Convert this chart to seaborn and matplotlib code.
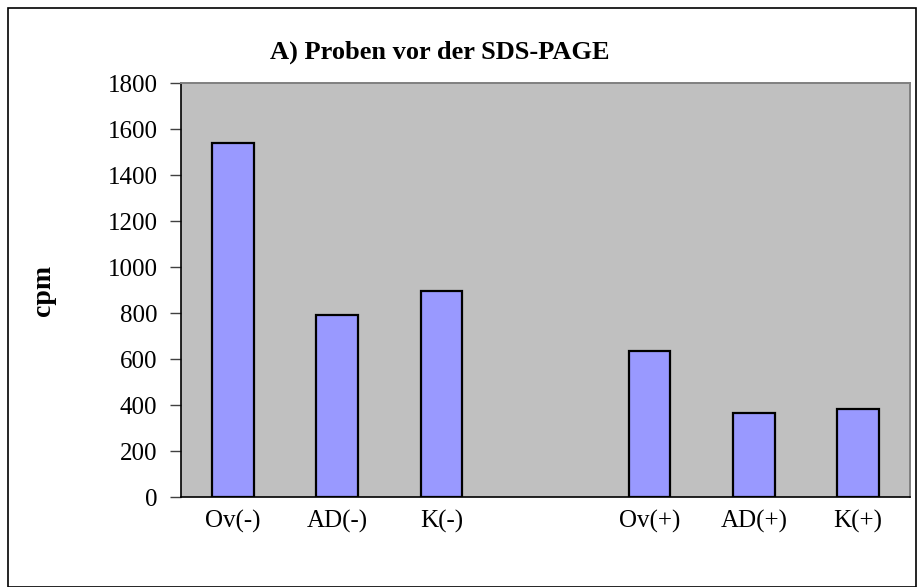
import pandas as pd
import matplotlib.pyplot as plt
import seaborn as sns
from matplotlib.patches import Rectangle

# ----------------------------
# Data
# ----------------------------
samples = ["Ov(-)", "AD(-)", "K(-)", "Ov(+)", "AD(+)", "K(+)"]
cpm_values = [1540, 792, 897, 636, 366, 383]
# blank slot between the (-) and (+) groups
category_order = ["Ov(-)", "AD(-)", "K(-)", "", "Ov(+)", "AD(+)", "K(+)"]
y_ticks = [0, 200, 400, 600, 800, 1000, 1200, 1400, 1600, 1800]

df = pd.DataFrame({"Probe": samples, "cpm": cpm_values})

# ----------------------------
# Style
# ----------------------------
sns.set_style("white")
plt.rcParams["font.family"] = ["Liberation Serif", "DejaVu Serif"]
plt.rcParams["text.color"] = "black"
plt.rcParams["axes.labelcolor"] = "black"
plt.rcParams["xtick.color"] = "black"
plt.rcParams["ytick.color"] = "black"

fig = plt.figure(figsize=(9.18, 5.87), dpi=100)
W, H = 918, 587
ax = fig.add_axes([181 / W, 1 - 497 / H, (910 - 181) / W, (497 - 83) / H])

sns.barplot(data=df, x="Probe", y="cpm", order=category_order,
            color="#9999FF", saturation=1, width=0.4,
            edgecolor="black", linewidth=1.6, ax=ax)

ax.set_facecolor("#C0C0C0")
ax.set_ylim(0, 1800)
ax.set_xlim(-0.5, 6.5)
ax.set_yticks(y_ticks)
ax.set_yticklabels([str(v) for v in y_ticks], fontsize=18)
ax.tick_params(axis="y", direction="out", length=8, width=1, color="#404040", pad=9, left=True)
ax.tick_params(axis="x", length=0, pad=9, labelsize=18)
ax.set_xlabel("")
ax.set_ylabel("cpm", fontsize=20, fontweight="bold")
ax.yaxis.set_label_coords(-0.171, 0.5)

for side in ["left", "bottom"]:
    ax.spines[side].set_color("black")
    ax.spines[side].set_linewidth(1.2)
for side in ["top", "right"]:
    ax.spines[side].set_visible(True)
    ax.spines[side].set_color("#808080")
    ax.spines[side].set_linewidth(1.4)

fig.text(440 / W, 1 - 52 / H, "A) Proben vor der SDS-PAGE",
         ha="center", va="center", fontsize=19, fontweight="bold")

# outer chart border
fig.patches.append(Rectangle((8 / W, 0.0), (916 - 8) / W, 1 - 8 / H,
                             transform=fig.transFigure, fill=False,
                             edgecolor="black", linewidth=1.2))

fig.savefig("out.png", dpi=100, facecolor="white")
